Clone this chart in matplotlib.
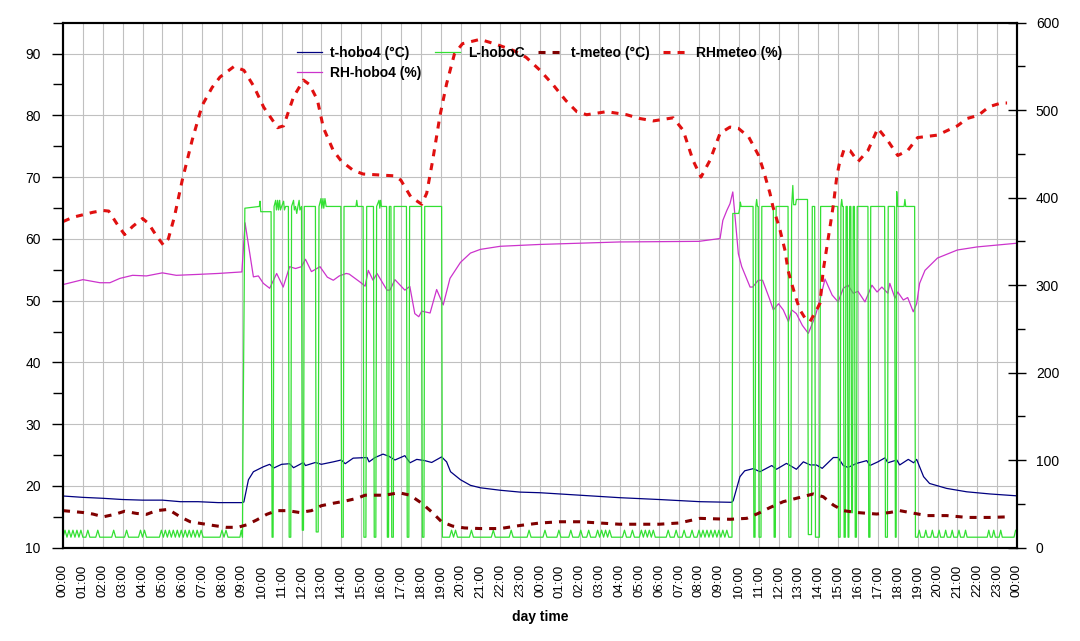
import matplotlib
matplotlib.use("Agg")
import matplotlib.pyplot as plt

plt.rcParams['font.family'] = ['Liberation Sans', 'DejaVu Sans']

# ---------------- data ----------------
hour_ticks = list(range(49))
hour_labels = [f"{h % 24:02d}:00" for h in hour_ticks]

t_hobo_hours = [0, 1, 2, 3, 4, 5, 5.9, 6.8, 7.8, 9.0, 9.1, 9.33, 9.58, 10.08, 10.4, 10.6, 11.0,
                11.4, 11.6, 12.1, 12.2, 12.7, 13.0, 13.6, 14.0, 14.2, 14.6, 15.3, 15.4, 15.7,
                16.1, 16.4, 16.7, 17.2, 17.46, 17.8, 18.2, 18.55, 19.05, 19.3, 19.5, 20.0, 20.5,
                21, 22, 23, 24, 26, 28, 30, 32.05, 33.64, 33.72, 34.06, 34.3, 34.73, 35.07,
                35.66, 35.9, 36.4, 36.9, 37.25, 37.6, 37.9, 38.2, 38.76, 39.0, 39.26, 39.5,
                39.93, 40.44, 40.6, 41.0, 41.36, 41.5, 41.95, 42.1, 42.53, 42.8, 42.95, 43.3,
                43.6, 44.46, 45.47, 46.64, 47.98]
t_hobo_values = [18.37, 18.15, 18.0, 17.8, 17.7, 17.7, 17.45, 17.45, 17.3, 17.3, 17.4, 21.0,
                 22.3, 23.1, 23.5, 22.9, 23.5, 23.6, 22.95, 23.8, 23.3, 23.8, 23.5, 23.9, 24.2,
                 23.6, 24.5, 24.6, 23.9, 24.6, 25.15, 24.8, 24.2, 24.9, 23.75, 24.3, 24.1, 23.8,
                 24.7, 23.9, 22.3, 21.0, 20.1, 19.7, 19.3, 19.0, 18.9, 18.5, 18.1, 17.8, 17.45,
                 17.35, 17.6, 21.5, 22.45, 22.8, 22.3, 23.3, 22.7, 23.65, 22.7, 23.9, 23.4, 23.4,
                 22.85, 24.6, 24.6, 23.3, 23.0, 23.65, 24.1, 23.3, 23.9, 24.55, 23.75, 24.2,
                 23.4, 24.3, 23.75, 24.3, 21.5, 20.4, 19.6, 19.05, 18.7, 18.4]

rh_hobo_hours = [0, 1.0, 1.86, 2.36, 2.86, 3.5, 4.2, 5.0, 5.7, 6.8, 7.8, 9.0, 9.16, 9.58, 9.83,
                 10.08, 10.4, 10.75, 11.08, 11.4, 11.7, 12.0, 12.2, 12.5, 12.93, 13.3, 13.6,
                 13.9, 14.25, 14.4, 14.95, 15.2, 15.36, 15.6, 15.8, 16.3, 16.45, 16.7, 17.2,
                 17.45, 17.7, 17.9, 18.05, 18.47, 18.8, 19.13, 19.47, 20.0, 20.5, 21, 22, 24,
                 28, 32, 33.06, 33.2, 33.4, 33.56, 33.7, 33.8, 33.98, 34.15, 34.57, 34.7, 34.98,
                 35.2, 35.57, 35.74, 36.0, 36.24, 36.5, 36.66, 36.9, 37.2, 37.5, 37.84, 38.1,
                 38.34, 38.7, 39.0, 39.26, 39.5, 39.76, 40.0, 40.35, 40.7, 40.96, 41.2, 41.5,
                 41.6, 41.86, 42.0, 42.28, 42.5, 42.78, 42.95, 43.1, 43.37, 44, 45, 46, 47, 48]
rh_hobo_values = [52.6, 53.4, 52.9, 52.9, 53.6, 54.1, 54.0, 54.5, 54.1, 54.25, 54.4, 54.65, 62.6,
                  53.85, 54.0, 52.8, 52.0, 54.4, 52.2, 55.5, 55.2, 55.5, 56.7, 54.7, 55.5, 53.8,
                  53.3, 54.0, 54.4, 54.3, 53.0, 52.35, 54.9, 53.3, 54.4, 51.7, 51.7, 53.4, 51.7,
                  52.3, 47.9, 47.4, 48.3, 48.0, 51.8, 49.3, 53.6, 56.2, 57.7, 58.3, 58.8, 59.1,
                  59.5, 59.6, 60.06, 63.0, 64.6, 65.7, 67.6, 64.1, 57.6, 55.5, 52.2, 52.2, 53.3,
                  53.3, 50.1, 48.5, 49.5, 48.5, 46.6, 48.5, 47.9, 46.0, 44.7, 47.4, 50.3, 53.5,
                  50.9, 49.8, 52.0, 52.5, 51.2, 51.5, 49.8, 52.5, 51.4, 52.2, 51.2, 52.8, 50.4,
                  51.4, 50.1, 50.5, 48.2, 49.5, 52.8, 54.9, 56.9, 58.2, 58.7, 59.0, 59.3]

t_meteo_hours = [0, 1.0, 1.5, 2.03, 2.6, 3.1, 3.7, 4.2, 4.7, 5.3, 5.9, 6.4, 6.98, 7.56, 8.2, 8.8,
                 9.24, 9.75, 10.25, 10.75, 11.3, 11.9, 12.5, 13.0, 13.6, 14.2, 14.8, 15.2, 16.2,
                 16.9, 17.46, 18.05, 18.55, 19.05, 19.6, 20.2, 21, 22, 23, 24, 25, 26, 27, 28,
                 29, 30, 31, 32.05, 33.56, 34.4, 34.98, 35.57, 36.24, 36.9, 37.75, 38.25, 38.76,
                 39.26, 39.93, 40.94, 41.6, 42.1, 42.6, 43.46, 44.46, 45.5, 46.6, 47.6]
t_meteo_values = [16.0, 15.7, 15.45, 15.0, 15.4, 15.9, 15.55, 15.4, 16.0, 16.2, 15.0, 14.2, 13.9,
                  13.6, 13.3, 13.3, 13.7, 14.5, 15.4, 16.0, 16.0, 15.7, 16.0, 16.8, 17.2, 17.55,
                  18.0, 18.5, 18.5, 18.9, 18.5, 17.2, 15.8, 14.2, 13.5, 13.2, 13.1, 13.1, 13.6,
                  14.0, 14.2, 14.2, 14.0, 13.8, 13.8, 13.8, 14.0, 14.75, 14.6, 14.75, 15.55, 16.5,
                  17.45, 18.0, 18.7, 18.25, 16.9, 16.0, 15.7, 15.45, 15.7, 16.0, 15.7, 15.2, 15.2,
                  14.9, 14.9, 15.0]

rh_meteo_hours = [0, 0.5, 1.0, 1.5, 2.0, 2.3, 2.7, 3.1, 3.5, 4.0, 4.3, 4.7, 5.05, 5.3, 5.6, 6.0,
                  6.5, 7.0, 7.5, 7.9, 8.6, 9.1, 9.6, 10.1, 10.8, 11.1, 11.6, 12.1, 12.4, 12.8,
                  13.1, 13.6, 14.0, 14.6, 15.1, 16.7, 17.0, 17.5, 18.05, 18.3, 18.6, 18.97, 19.3,
                  19.7, 20.1, 20.98, 21.8, 22.66, 23.3, 24.0, 24.67, 25.3, 25.85, 26.35, 27.36,
                  28.36, 29.0, 29.7, 30.7, 31.2, 31.7, 32.1, 32.55, 33.06, 33.56, 33.98, 34.5,
                  35.0, 35.24, 35.57, 35.72, 36.08, 36.33, 36.48, 36.66, 36.92, 37.08, 37.33,
                  37.58, 37.92, 38.09, 38.25, 38.59, 38.76, 38.93, 39.05, 39.3, 39.6, 40.0,
                  40.5, 41.0, 41.5, 42.0, 42.5, 43.0, 44.0, 45.0, 45.5, 46.05, 46.6, 47.2, 47.5]
rh_meteo_values = [62.8, 63.5, 63.9, 64.3, 64.6, 64.5, 62.5, 60.7, 62.0, 63.3, 62.5, 60.5, 59.0,
                   60.0, 63.5, 69.5, 76.0, 81.6, 84.5, 86.2, 87.9, 87.3, 84.7, 81.3, 78.0, 78.3,
                   83.0, 85.7, 85.0, 82.5, 78.0, 74.3, 72.6, 71.1, 70.5, 70.2, 69.5, 66.8, 65.6,
                   67.4, 72.7, 80.0, 85.1, 90.0, 91.6, 92.3, 91.5, 90.5, 89.4, 87.3, 84.9, 82.4,
                   80.6, 80.1, 80.6, 80.1, 79.5, 79.1, 79.6, 77.6, 72.7, 70.0, 72.7, 77.1, 78.1,
                   77.9, 76.5, 73.5, 71.1, 67.4, 65.2, 61.4, 58.1, 54.9, 52.8, 50.0, 48.5, 47.2,
                   46.6, 48.5, 49.6, 54.9, 61.9, 65.5, 70.0, 72.0, 74.5, 74.3, 72.5, 74.3, 77.9,
                   75.9, 73.5, 74.3, 76.4, 76.8, 78.3, 79.5, 80.0, 81.4, 82.0, 82.0]

# L-hoboC (right axis), (hour, value) points per period
l_hobo_night1 = [(0, 12), (0.1, 20), (0.2, 12), (0.3, 20), (0.4, 12), (0.5, 20), (0.6, 12),
                 (0.7, 20), (0.8, 12), (0.9, 20), (1.0, 12), (1.15, 12), (1.25, 20), (1.35, 12),
                 (1.65, 12), (1.75, 20), (1.85, 12), (2.45, 12), (2.55, 20), (2.65, 12),
                 (3.1, 12), (3.2, 20), (3.3, 12), (3.8, 12), (3.9, 20), (4.0, 12), (4.1, 20),
                 (4.2, 12), (4.85, 12), (4.95, 20), (5.05, 12), (5.15, 20), (5.25, 12),
                 (5.35, 20), (5.45, 12), (5.55, 20), (5.65, 12), (5.75, 20), (5.85, 12),
                 (5.95, 20), (6.05, 12), (6.15, 20), (6.25, 12), (6.35, 20), (6.45, 12),
                 (6.55, 20), (6.65, 12), (6.75, 20), (6.85, 12), (6.95, 20), (7.05, 12),
                 (7.9, 12), (8.0, 20), (8.1, 12), (8.2, 20), (8.3, 12), (8.9, 12), (8.97, 20),
                 (9.03, 12)]
l_hobo_day1 = [(9.05, 104), (9.15, 388), (9.88, 390), (9.91, 396), (9.95, 384), (10.47, 384),
               (10.52, 12), (10.57, 12), (10.62, 390), (10.70, 397), (10.74, 386), (10.80, 397),
               (10.84, 386), (10.90, 397), (10.94, 386), (11.00, 390), (11.10, 396),
               (11.14, 386), (11.20, 390), (11.34, 390), (11.38, 12), (11.46, 12), (11.50, 390),
               (11.60, 397), (11.64, 386), (11.70, 390), (11.76, 382), (11.82, 390),
               (11.88, 397), (11.92, 386), (12.00, 390), (12.04, 20), (12.10, 20), (12.14, 390),
               (12.70, 390), (12.74, 18), (12.84, 18), (12.88, 390), (12.98, 399), (13.02, 388),
               (13.08, 399), (13.12, 388), (13.18, 399), (13.24, 390), (13.98, 390),
               (14.02, 12), (14.10, 12), (14.14, 390), (14.74, 390), (14.78, 397), (14.82, 390),
               (15.10, 390), (15.14, 12), (15.24, 12), (15.28, 390), (15.62, 390), (15.66, 12),
               (15.74, 12), (15.78, 390), (15.90, 397), (15.94, 388), (15.98, 397),
               (16.02, 390), (16.28, 390), (16.32, 12), (16.38, 12), (16.42, 390), (16.50, 390),
               (16.54, 12), (16.62, 12), (16.66, 390), (17.28, 390), (17.32, 12), (17.40, 12),
               (17.44, 390), (18.04, 390), (18.08, 12), (18.16, 12), (18.20, 390), (19.05, 390),
               (19.09, 12)]
l_hobo_night2 = [(19.45, 12), (19.55, 20), (19.65, 12), (19.75, 20), (19.85, 12), (20.45, 12),
                 (20.55, 20), (20.65, 12), (21.55, 12), (21.65, 20), (21.75, 12), (22.45, 12),
                 (22.55, 20), (22.65, 12), (23.35, 12), (23.45, 20), (23.55, 12), (24.15, 12),
                 (24.25, 20), (24.35, 12), (24.85, 12), (24.95, 20), (25.05, 12), (25.45, 12),
                 (25.55, 20), (25.65, 12), (25.95, 12), (26.05, 20), (26.15, 12), (26.35, 12),
                 (26.45, 20), (26.55, 12), (26.8, 12), (26.9, 20), (27.0, 12), (27.1, 20),
                 (27.2, 12), (27.3, 20), (27.4, 12), (27.5, 20), (27.6, 12), (28.15, 12),
                 (28.25, 20), (28.35, 12), (28.55, 12), (28.65, 20), (28.75, 12), (29.0, 12),
                 (29.1, 20), (29.2, 12), (29.3, 20), (29.4, 12), (29.5, 20), (29.6, 12),
                 (29.7, 20), (29.8, 12), (30.35, 12), (30.45, 20), (30.55, 12), (30.75, 12),
                 (30.85, 20), (30.95, 12), (31.15, 12), (31.25, 20), (31.35, 12), (31.55, 12),
                 (31.65, 20), (31.75, 12), (31.9, 12), (32.0, 20), (32.1, 12), (32.2, 20),
                 (32.3, 12), (32.4, 20), (32.5, 12), (32.6, 20), (32.7, 12), (32.8, 20),
                 (32.9, 12), (33.0, 20), (33.1, 12), (33.2, 20), (33.3, 12), (33.4, 20),
                 (33.5, 12), (33.66, 12)]
l_hobo_day2 = [(33.70, 382), (34.00, 382), (34.05, 388), (34.08, 395), (34.12, 390),
               (34.72, 390), (34.76, 12), (34.82, 12), (34.86, 390), (34.90, 398), (34.94, 390),
               (34.98, 390), (35.02, 12), (35.12, 12), (35.16, 390), (35.74, 390), (35.78, 12),
               (35.84, 12), (35.88, 390), (36.48, 390), (36.52, 12), (36.62, 12), (36.66, 390),
               (36.72, 414), (36.76, 392), (36.86, 392), (36.90, 398), (37.46, 398),
               (37.50, 15), (37.66, 15), (37.70, 390), (37.82, 390), (37.86, 12), (38.06, 12),
               (38.12, 390), (38.98, 390), (39.02, 12), (39.10, 12), (39.14, 390), (39.18, 398),
               (39.22, 390), (39.26, 390), (39.30, 12), (39.36, 12), (39.40, 390), (39.46, 390),
               (39.50, 12), (39.54, 12), (39.58, 390), (39.64, 390), (39.68, 40), (39.72, 40),
               (39.76, 390), (39.82, 390), (39.86, 12), (39.92, 12), (39.96, 390), (40.50, 390),
               (40.54, 12), (40.60, 12), (40.64, 390), (41.34, 390), (41.38, 12), (41.48, 12),
               (41.52, 390), (41.84, 390), (41.88, 12), (41.92, 12), (41.95, 407), (41.98, 390),
               (42.32, 390), (42.36, 398), (42.40, 390), (42.85, 390), (42.89, 12)]
l_hobo_night3 = [(43.0, 12), (43.08, 20), (43.16, 12), (43.33, 12), (43.41, 20), (43.49, 12),
                 (43.66, 12), (43.74, 20), (43.82, 12), (44.0, 12), (44.08, 20), (44.16, 12),
                 (44.33, 12), (44.41, 20), (44.49, 12), (44.66, 12), (44.74, 20), (44.82, 12),
                 (45.0, 12), (45.08, 20), (45.16, 12), (45.33, 12), (45.41, 20), (45.49, 12),
                 (46.5, 12), (46.58, 20), (46.66, 12), (46.75, 12), (46.83, 20), (46.91, 12),
                 (47.1, 12), (47.18, 20), (47.26, 12), (47.85, 12), (47.93, 20), (48.0, 20)]

l_hobo_points = l_hobo_night1 + l_hobo_day1 + l_hobo_night2 + l_hobo_day2 + l_hobo_night3
l_hobo_hours = [p[0] for p in l_hobo_points]
l_hobo_values = [p[1] for p in l_hobo_points]

# ---------------- figure ----------------
W, H = 1080, 641
fig = plt.figure(figsize=(W / 100, H / 100), dpi=100)
L, R, T, B = 63, 1017, 22.7, 547.7
ax = fig.add_axes([L / W, 1 - B / H, (R - L) / W, (B - T) / H])
ax2 = ax.twinx()

col_navy = '#000080'
col_mag = '#cc33cc'
col_green = '#33e033'
col_dred = '#800000'
col_red = '#e01010'

l1, = ax.plot(t_hobo_hours, t_hobo_values, color=col_navy, lw=0.9, label='t-hobo4 (°C)')
l2, = ax.plot(rh_hobo_hours, rh_hobo_values, color=col_mag, lw=0.9, label='RH-hobo4 (%)')
l3, = ax2.plot(l_hobo_hours, l_hobo_values, color=col_green, lw=0.9, label='L-hoboC')
l4, = ax2.plot(t_meteo_hours, t_meteo_values, color=col_dred, lw=2.2, dashes=(2.3, 2.3),
               transform=ax.transData, label='t-meteo (°C)')
l5, = ax2.plot(rh_meteo_hours, rh_meteo_values, color=col_red, lw=2.2, dashes=(2.3, 2.3),
               transform=ax.transData, label='RHmeteo (%)')

ax.set_xlim(0, 48)
ax.set_ylim(10, 95)
ax2.set_ylim(0, 600)

ax.set_xticks(hour_ticks)
ax.set_xticklabels(hour_labels, rotation=90, fontsize=9.5)
ax.tick_params(axis='x', length=0, pad=12)

ax.set_yticks(range(10, 91, 10))
ax.set_yticks(range(15, 96, 10), minor=True)
ax.tick_params(axis='y', which='major', length=8, width=1, direction='out', pad=8, labelsize=10)
ax.tick_params(axis='y', which='minor', length=7, width=1, direction='out')

ax2.set_yticks(range(0, 601, 100))
ax2.set_yticks(range(50, 551, 100), minor=True)
ax2.tick_params(axis='y', which='major', length=13, width=1, direction='inout', pad=7, labelsize=10)
ax2.tick_params(axis='y', which='minor', length=6, width=1, direction='out')

ax.grid(True, which='major', color='#c0c0c0', lw=0.8)
ax.set_axisbelow(True)
for a in (ax, ax2):
    for s in a.spines.values():
        s.set_linewidth(1.5)
        s.set_color('black')

ax.set_xlabel('day time', fontsize=10, fontweight='bold', labelpad=9)

leg = ax2.legend(handles=[l1, l2, l3, l4, l5], ncol=4, frameon=False,
                 loc='upper left', bbox_to_anchor=(297 / W, 1 - 46 / H),
                 bbox_transform=fig.transFigure, borderpad=0, borderaxespad=0,
                 handlelength=1.8, handletextpad=0.58, columnspacing=0.95,
                 labelspacing=0.42, prop={'size': 10, 'weight': 'bold'})

fig.savefig('out.png', dpi=100)
